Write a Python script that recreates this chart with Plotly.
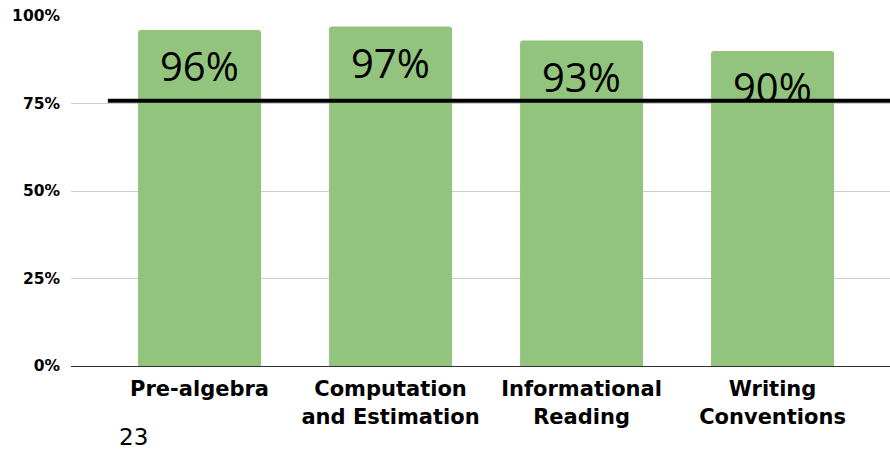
import plotly.graph_objects as go

# chart data
categories = ["Pre-algebra", "Computation<br>and Estimation", "Informational<br>Reading", "Writing<br>Conventions"]
scores = [0.96, 0.97, 0.93, 0.90]
labels = ["96%", "97%", "93%", "90%"]
target = 0.758  # hand-drawn benchmark line
slide_number = "23"

tick_vals = [0, 0.25, 0.5, 0.75, 1.0]
tick_text = ["0%", "25%", "50%", "75%", "100%"]

fig = go.Figure()
fig.add_trace(go.Bar(
    x=list(range(len(categories))),
    y=scores,
    marker=dict(color="#93c47d", cornerradius=3, line=dict(width=0)),
    hoverinfo="skip",
))

# big value labels inside the top of each bar
for i, (v, t) in enumerate(zip(scores, labels)):
    fig.add_annotation(
        x=i, y=v, text=t, showarrow=False, yanchor="top", yshift=-6,
        font=dict(family="Open Sans", size=40, color="black"),
    )

# benchmark line drawn across the chart
fig.add_shape(
    type="line", xref="paper", yref="y", x0=0.045, x1=1.0, y0=target, y1=target,
    line=dict(color="black", width=4), layer="above",
)

fig.add_annotation(
    xref="paper", yref="paper", x=(117 - 71) / 819, y=-0.203, text=slide_number,
    showarrow=False, xanchor="left", yanchor="middle",
    font=dict(family="DejaVu Sans", size=23, color="black"),
)

fig.update_layout(
    width=890, height=449,
    margin=dict(l=71, r=0, t=16, b=83),
    plot_bgcolor="white", paper_bgcolor="white",
    showlegend=False, bargap=0.356,
    font=dict(family="DejaVu Sans", color="black"),
)
fig.update_xaxes(
    range=[-0.673, 3.615], tickvals=list(range(len(categories))), ticktext=categories,
    tickfont=dict(family="DejaVu Sans", size=21, color="black", weight="bold"),
    showgrid=False, showline=True, linecolor="#333333", linewidth=1, ticks="",
    ticklabelstandoff=4,
)
fig.update_yaxes(
    range=[0, 1.0], tickvals=tick_vals, ticktext=tick_text,
    tickfont=dict(family="DejaVu Sans", size=15.5, color="black", weight="bold"),
    showgrid=True, gridcolor="#cccccc", gridwidth=1, zeroline=False,
    ticklabelstandoff=10, showline=False,
)

fig.write_html("out.html", config={"displayModeBar": False},
               post_script="document.body.style.margin='0';")
